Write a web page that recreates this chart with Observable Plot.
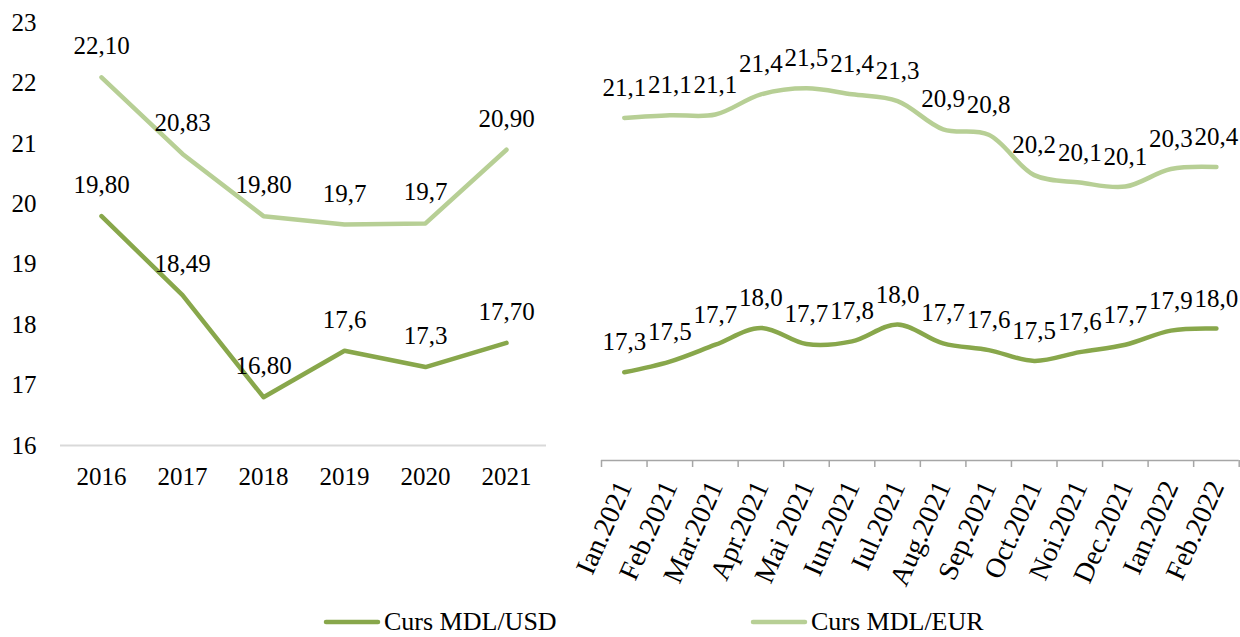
<!DOCTYPE html>
<html>
<head>
<meta charset="utf-8">
<script src="https://cdn.jsdelivr.net/npm/d3@7"></script>
<script src="https://cdn.jsdelivr.net/npm/@observablehq/plot@0.6"></script>
<style>
  html, body { margin: 0; padding: 0; background: #fff; }
  #wrap { position: relative; width: 1240px; height: 637px; font-family: "Liberation Serif", serif; color: #000; }
  #left { position: absolute; left: 0; top: 0; }
  #right { position: absolute; left: 560px; top: 0; }
  #legend { position: absolute; left: 0; top: 606px; width: 1240px; height: 32px; }
  .item { position: absolute; top: 0; height: 32px; line-height: 32px; font-size: 26px; white-space: nowrap; display: flex; align-items: center; }
  .item svg { margin-right: 3px; }
</style>
</head>
<body>
<div id="wrap">
  <div id="left"></div>
  <div id="right"></div>
  <div id="legend"></div>
</div>
<script>
// ---- data ----
const seriesNames = ["Curs MDL/USD", "Curs MDL/EUR"];
const seriesColors = ["#88a74b", "#b7cf95"];

const years = ["2016", "2017", "2018", "2019", "2020", "2021"];
const usdAnnual = [19.80, 18.49, 16.80, 17.57, 17.30, 17.70];
const eurAnnual = [22.10, 20.83, 19.80, 19.66, 19.68, 20.90];
const usdAnnualLabels = ["19,80", "18,49", "16,80", "17,6", "17,3", "17,70"];
const eurAnnualLabels = ["22,10", "20,83", "19,80", "19,7", "19,7", "20,90"];
const yTicks = [16, 17, 18, 19, 20, 21, 22, 23];

const months = ["Ian.2021", "Feb.2021", "Mar.2021", "Apr.2021", "Mai 2021", "Iun.2021", "Iul.2021",
                "Aug.2021", "Sep.2021", "Oct.2021", "Noi.2021", "Dec.2021", "Ian.2022", "Feb.2022"];
const usdMonthly = [17.31, 17.47, 17.72, 17.97, 17.73, 17.77, 18.02, 17.74, 17.64, 17.48, 17.61, 17.72, 17.93, 17.96];
const eurMonthly = [21.09, 21.13, 21.14, 21.44, 21.53, 21.44, 21.34, 20.92, 20.84, 20.24, 20.13, 20.07, 20.33, 20.36];
const usdMonthlyLabels = ["17,3", "17,5", "17,7", "18,0", "17,7", "17,8", "18,0", "17,7", "17,6", "17,5", "17,6", "17,7", "17,9", "18,0"];
const eurMonthlyLabels = ["21,1", "21,1", "21,1", "21,4", "21,5", "21,4", "21,3", "20,9", "20,8", "20,2", "20,1", "20,1", "20,3", "20,4"];

// ---- tables ----
const annual = years.flatMap((y, i) => [
  {x: y, v: usdAnnual[i], label: usdAnnualLabels[i], s: seriesNames[0]},
  {x: y, v: eurAnnual[i], label: eurAnnualLabels[i], s: seriesNames[1]}
]);
const monthly = months.flatMap((m, i) => [
  {i, v: usdMonthly[i], label: usdMonthlyLabels[i], s: seriesNames[0]},
  {i, v: eurMonthly[i], label: eurMonthlyLabels[i], s: seriesNames[1]}
]);

const font = {fontFamily: "'Liberation Serif', serif", fontSize: "25px", color: "#000", background: "transparent", overflow: "visible"};
const color = {domain: seriesNames, range: seriesColors};

// ---- left chart ----
const left = Plot.plot({
  width: 560,
  height: 500,
  marginLeft: 60,
  marginRight: 14,
  marginTop: 22.5,
  marginBottom: 55,
  style: font,
  color,
  x: {type: "point", domain: years, padding: 0.5, label: null},
  y: {domain: [16, 23], label: null},
  marks: [
    Plot.ruleY([16], {stroke: "#d9d9d9", strokeWidth: 2}),
    Plot.axisY({ticks: yTicks, tickSize: 0, tickPadding: 24, tickFormat: d => String(d), label: null}),
    Plot.axisX({tickSize: 0, tickPadding: 21.5, label: null}),
    Plot.line(annual, {x: "x", y: "v", z: "s", stroke: "s", strokeWidth: 4.5, strokeLinecap: "round", strokeLinejoin: "round"}),
    Plot.text(annual, {x: "x", y: "v", text: "label", dy: -31, fill: "#000"})
  ]
});
document.getElementById("left").appendChild(left);

// ---- right chart ----
const right = Plot.plot({
  width: 680,
  height: 600,
  marginLeft: 41,
  marginRight: 1.3,
  marginTop: 22.5,
  marginBottom: 140,
  style: font,
  color,
  x: {type: "linear", domain: [-0.5, months.length - 0.5], label: null},
  y: {domain: [16, 22.5], axis: null, label: null},
  marks: [
    Plot.ruleY([16], {stroke: "#a6a6a6", strokeWidth: 1.5}),
    Plot.axisX({ticks: d3.range(-0.5, months.length), tickSize: 7, stroke: "#a6a6a6", strokeWidth: 1.5, tickFormat: () => "", label: null}),
    Plot.axisX({ticks: d3.range(months.length), tickSize: 0, tickPadding: 22, tickRotate: -66, fontSize: 28, tickFormat: i => months[i], label: null}),
    Plot.line(monthly, {x: "i", y: "v", z: "s", stroke: "s", strokeWidth: 4.5, strokeLinecap: "round", curve: "catmull-rom"}),
    Plot.text(monthly, {x: "i", y: "v", text: "label", dy: -30, fill: "#000"})
  ]
});
document.getElementById("right").appendChild(right);

// ---- legend ----
const legendLeft = [323, 750];
const legend = d3.select("#legend");
seriesNames.forEach((name, k) => {
  const item = legend.append("div").attr("class", "item").style("left", legendLeft[k] + "px");
  const sw = item.append("svg").attr("width", 58).attr("height", 10);
  sw.append("line").attr("x1", 3).attr("x2", 55).attr("y1", 5).attr("y2", 5)
    .attr("stroke", seriesColors[k]).attr("stroke-width", 4.5).attr("stroke-linecap", "round");
  item.append("span").text(name);
});
</script>
</body>
</html>
